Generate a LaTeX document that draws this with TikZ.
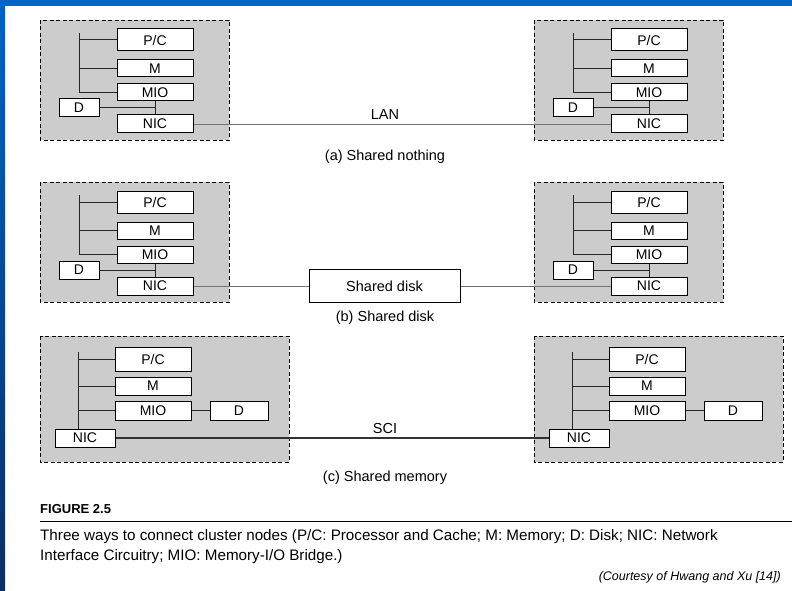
\documentclass[tikz,border=0pt]{standalone}
\usepackage{fontspec}
\setmainfont{Liberation Sans}
\definecolor{slideblue}{HTML}{0063C6}
\definecolor{slidedark}{HTML}{0B2E66}

\begin{document}
\begin{tikzpicture}[x=1pt,y=-1pt,
    unit/.style={draw, fill=white, line width=1pt, inner sep=0pt, font=\fontsize{14}{16}\selectfont},
    cluster/.style={draw, dash pattern=on 4pt off 2.5pt, fill=black!20, line width=0.9pt},
    bus/.style={line width=1pt, black!85},
    net/.style={line width=0.8pt, black!55},
    sci/.style={line width=1.1pt, black!80},
    label/.style={text=black, font=\fontsize{14.5}{17}\selectfont}]
    % Seite und Rand
    \useasboundingbox (0,0) rectangle (792,591);
    \fill[white] (0,0) rectangle (792,591);
    \shade[top color=slideblue, bottom color=slidedark] (0,0) rectangle (5,591);
    \fill[slideblue] (0,0) rectangle (792,6);

    % (a) und (b): Knoten mit D an der NIC
    \foreach \n/\ox/\oy in {al/40/0, ar/534/0, bl/40/162, br/534/162} {
        \draw[cluster] (\ox,\oy+20) rectangle ++(189,120);
        \node[unit, minimum width=76pt, minimum height=22pt] (\n pc) at (\ox+115,\oy+40) {P/C};
        \node[unit, minimum width=76pt, minimum height=17pt] (\n m) at (\ox+115,\oy+68.5) {M};
        \node[unit, minimum width=76pt, minimum height=17pt] (\n mio) at (\ox+115,\oy+92.5) {MIO};
        \node[unit, minimum width=40pt, minimum height=18pt] (\n d) at (\ox+39,\oy+108) {D};
        \node[unit, minimum width=76pt, minimum height=18pt] (\n nic) at (\ox+115,\oy+124) {NIC};
        % Bus
        \coordinate (\n top) at (\ox+39,\oy+33);
        \draw[bus] (\n top) |- (\n mio.west);
        \draw[bus] (\n top |- \n pc.west) -- (\n pc.west);
        \draw[bus] (\n top |- \n m.west) -- (\n m.west);
        % D an MIO/NIC
        \draw[bus] (\n mio.south) -- (\n nic.north);
        \draw[bus] (\n d.east) -- (\n d.east -| \n nic.north);
    }

    % (c): NIC am Bus, D an der MIO
    \foreach \n/\ox in {cl/40, cr/534} {
        \draw[cluster] (\ox,336) rectangle ++(249,126);
        \node[unit, minimum width=76pt, minimum height=24pt] (\n pc) at (\ox+113,359) {P/C};
        \node[unit, minimum width=76pt, minimum height=18pt] (\n m) at (\ox+113,386) {M};
        \node[unit, minimum width=76pt, minimum height=19pt] (\n mio) at (\ox+113,410.5) {MIO};
        \node[unit, minimum width=58pt, minimum height=19pt] (\n d) at (\ox+199,410.5) {D};
        \node[unit, minimum width=60pt, minimum height=18pt] (\n nic) at (\ox+45,438) {NIC};
        \coordinate (\n top) at (\ox+38,352);
        \draw[bus] (\n top) -- (\n top |- \n nic.north);
        \draw[bus] (\n top |- \n pc.west) -- (\n pc.west);
        \draw[bus] (\n top |- \n m.west) -- (\n m.west);
        \draw[bus] (\n top |- \n mio.west) -- (\n mio.west);
        \draw[bus] (\n mio.east) -- (\n d.west);
    }

    % Unterschriften
    \node[label] (capa) at (385,157) {(a) Shared nothing};
    \node[label] (capb) at (385,318) {(b) Shared disk};
    \node[label] (capc) at (385,478) {(c) Shared memory};

    % Verbindungen
    \draw[net] (alnic.east) -- (arnic.west);
    \node[label, anchor=south, yshift=1pt] (lan) at (capa |- alnic.east) {LAN};
    \node[unit, font=\fontsize{14.5}{17}\selectfont, minimum width=151pt, minimum height=33pt] (disk) at (384.5,286) {Shared disk};
    \draw[net] (blnic.east) -- (disk.west);
    \draw[net] (disk.east) -- (brnic.west);
    \draw[sci] (clnic.east) -- (crnic.west);
    \node[label, anchor=south, yshift=1pt] (scilbl) at (capc |- clnic.east) {SCI};

    % Bildunterschrift
    \node[anchor=west, inner sep=0pt, font=\fontsize{13}{15}\selectfont\bfseries] (fig) at (40,509) {FIGURE 2.5};
    \draw[line width=1pt] (40,521) -- (792,521);
    \node[anchor=west, inner sep=0pt, text=black, font=\fontsize{15.2}{18}\selectfont] (cap1) at (40,537) {Three ways to connect cluster nodes (P/C: Processor and Cache; M: Memory; D: Disk; NIC: Network};
    \node[anchor=west, inner sep=0pt, text=black, font=\fontsize{15.2}{18}\selectfont] (cap2) at (40,557) {Interface Circuitry; MIO: Memory-I/O Bridge.)};
    \node[anchor=east, inner sep=0pt, font=\fontsize{12.5}{15}\selectfont\itshape] (court) at (781,577) {(Courtesy of Hwang and Xu [14])};
\end{tikzpicture}
\end{document}
